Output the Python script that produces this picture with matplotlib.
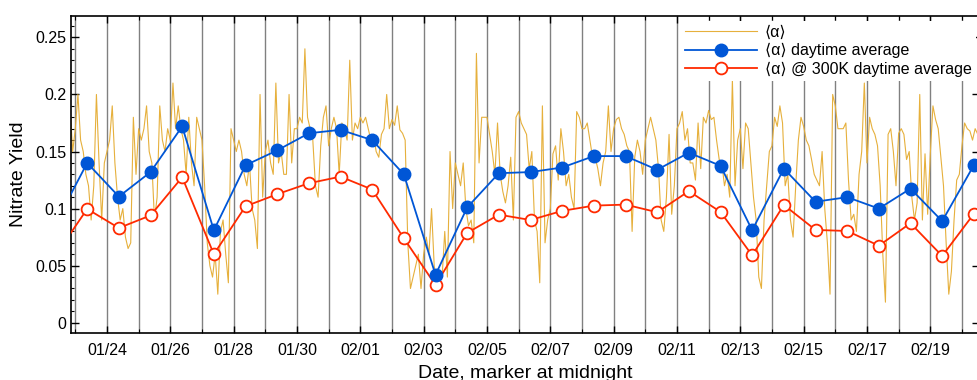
# Nitrate yield time series with daytime averages
import pandas as pd
import matplotlib
matplotlib.use('Agg')
import matplotlib.pyplot as plt
import matplotlib.dates as mdates
from matplotlib.ticker import MultipleLocator, FormatStrFormatter

plt.rcParams['font.family'] = ['Liberation Sans', 'DejaVu Sans']

# <alpha>, one value every 2 h starting 01/22 18:00
alpha_start = '2021-01-22 18:00'
alpha = [
    0.16, 0.19, 0.15,                                                              # 01/22
    0.17, 0.20, 0.16, 0.15, 0.13, 0.12, 0.09, 0.12, 0.20, 0.14, 0.09, 0.14,        # 01/23
    0.15, 0.16, 0.19, 0.14, 0.11, 0.09, 0.10, 0.075, 0.065, 0.07, 0.18, 0.13,      # 01/24
    0.17, 0.16, 0.17, 0.19, 0.15, 0.14, 0.09, 0.11, 0.19, 0.16, 0.15, 0.17,        # 01/25
    0.16, 0.21, 0.17, 0.19, 0.17, 0.16, 0.13, 0.18, 0.14, 0.12, 0.18, 0.17,        # 01/26
    0.16, 0.12, 0.07, 0.05, 0.04, 0.06, 0.025, 0.08, 0.09, 0.06, 0.035, 0.17,      # 01/27
    0.16, 0.15, 0.16, 0.15, 0.13, 0.12, 0.14, 0.10, 0.09, 0.065, 0.20, 0.11,       # 01/28
    0.15, 0.16, 0.14, 0.13, 0.21, 0.14, 0.15, 0.13, 0.13, 0.20, 0.14, 0.17,        # 01/29
    0.17, 0.18, 0.175, 0.24, 0.18, 0.17, 0.16, 0.12, 0.11, 0.155, 0.18, 0.19,      # 01/30
    0.155, 0.17, 0.18, 0.17, 0.13, 0.175, 0.17, 0.16, 0.23, 0.16, 0.175, 0.17,     # 01/31
    0.18, 0.175, 0.18, 0.17, 0.16, 0.165, 0.15, 0.145, 0.165, 0.17, 0.20, 0.17,    # 02/01
    0.178, 0.173, 0.19, 0.169, 0.166, 0.16, 0.07, 0.03, 0.04, 0.05, 0.06, 0.03,    # 02/02
    0.06, 0.075, 0.06, 0.10, 0.05, 0.035, 0.045, 0.04, 0.08, 0.04, 0.15, 0.10,     # 02/03
    0.14, 0.13, 0.12, 0.14, 0.10, 0.085, 0.09, 0.07, 0.236, 0.14, 0.18, 0.18,      # 02/04
    0.18, 0.165, 0.15, 0.13, 0.175, 0.13, 0.115, 0.105, 0.12, 0.145, 0.09, 0.18,   # 02/05
    0.185, 0.175, 0.17, 0.165, 0.135, 0.15, 0.09, 0.08, 0.035, 0.19, 0.07, 0.09,   # 02/06
    0.10, 0.148, 0.155, 0.125, 0.17, 0.15, 0.12, 0.13, 0.11, 0.10, 0.185, 0.18,    # 02/07
    0.17, 0.17, 0.175, 0.16, 0.145, 0.145, 0.135, 0.12, 0.14, 0.15, 0.19, 0.15,    # 02/08
    0.17, 0.178, 0.18, 0.17, 0.165, 0.155, 0.15, 0.08, 0.145, 0.16, 0.15, 0.13,    # 02/09
    0.16, 0.17, 0.18, 0.17, 0.16, 0.135, 0.09, 0.08, 0.11, 0.165, 0.095, 0.12,     # 02/10
    0.17, 0.175, 0.185, 0.16, 0.17, 0.14, 0.14, 0.125, 0.175, 0.135, 0.18, 0.175,  # 02/11
    0.186, 0.178, 0.18, 0.16, 0.143, 0.14, 0.12, 0.13, 0.11, 0.213, 0.12, 0.16,    # 02/12
    0.17, 0.135, 0.175, 0.17, 0.14, 0.11, 0.09, 0.04, 0.03, 0.09, 0.12, 0.15,      # 02/13
    0.155, 0.18, 0.172, 0.19, 0.175, 0.12, 0.13, 0.09, 0.075, 0.12, 0.16, 0.18,    # 02/14
    0.172, 0.16, 0.155, 0.143, 0.13, 0.125, 0.12, 0.15, 0.10, 0.07, 0.025, 0.20,   # 02/15
    0.19, 0.17, 0.17, 0.17, 0.175, 0.125, 0.09, 0.095, 0.08, 0.13, 0.15, 0.21,     # 02/16
    0.14, 0.18, 0.17, 0.165, 0.155, 0.12, 0.06, 0.018, 0.165, 0.17, 0.15, 0.12,   # 02/17
    0.166, 0.17, 0.165, 0.143, 0.15, 0.11, 0.09, 0.105, 0.20, 0.09, 0.148, 0.095,  # 02/18
    0.148, 0.19, 0.178, 0.17, 0.145, 0.12, 0.07, 0.025, 0.045, 0.09, 0.125, 0.13,  # 02/19
    0.155, 0.175, 0.17, 0.168, 0.16, 0.17, 0.165, 0.17, 0.17, 0.16, 0.17, 0.165,   # 02/20
]

# daytime averages, one per day (01/22 .. 02/21)
avg_start = '2021-01-22 09:00'
alpha_day = [0.087, 0.140, 0.1105, 0.132, 0.172, 0.081, 0.138, 0.151, 0.166, 0.169,
             0.160, 0.130, 0.042, 0.101, 0.131, 0.132, 0.136, 0.146, 0.146, 0.134,
             0.149, 0.1375, 0.081, 0.135, 0.106, 0.110, 0.100, 0.1175, 0.089, 0.138,
             0.110]
alpha_300k = [0.059, 0.0997, 0.083, 0.094, 0.1275, 0.060, 0.102, 0.1126, 0.1222, 0.128,
              0.1167, 0.074, 0.033, 0.0787, 0.0947, 0.090, 0.098, 0.1026, 0.1035, 0.0968,
              0.1153, 0.0971, 0.059, 0.1032, 0.0813, 0.0804, 0.0675, 0.0872, 0.0585, 0.0954,
              0.085]

t_alpha = pd.date_range(alpha_start, periods=len(alpha), freq='2h')
t_avg = pd.date_range(avg_start, periods=len(alpha_day), freq='D')
midnights = pd.date_range('2021-01-23', '2021-02-20', freq='D')
label_days = pd.date_range('2021-01-24', '2021-02-20', freq='2D')

c_alpha = '#E6B03C'
c_day = '#0056D6'
c_300k = '#FF2A00'

fig = plt.figure(figsize=(9.77, 3.8), dpi=100)
ax = fig.add_axes([71 / 977, 47 / 380, 909 / 977, 317.3 / 380])

# marker at midnight
for d in midnights:
    ax.axvline(d, color='0.5', lw=1.0, zorder=1)

ax.plot(t_alpha, alpha, color=c_alpha, lw=0.8, zorder=2, label='⟨α⟩')
ax.plot(t_avg, alpha_day, color=c_day, lw=1.3, marker='o', ms=9,
        mfc=c_day, mec=c_day, zorder=4, label='⟨α⟩ daytime average')
ax.plot(t_avg, alpha_300k, color=c_300k, lw=1.3, marker='o', ms=8.5,
        mfc='white', mec=c_300k, mew=1.3, zorder=3, label='⟨α⟩ @ 300K daytime average')

ax.set_xlim(pd.Timestamp('2021-01-22 20:44'), pd.Timestamp('2021-02-20 13:40'))
ax.set_ylim(-0.009, 0.269)

ax.set_xticks(label_days)
ax.set_xticks(midnights, minor=True)
ax.xaxis.set_major_formatter(mdates.DateFormatter('%m/%d'))
ax.yaxis.set_major_locator(MultipleLocator(0.05))
ax.yaxis.set_minor_locator(MultipleLocator(0.01))
ax.yaxis.set_major_formatter(FormatStrFormatter('%g'))

ax.tick_params(which='both', direction='in', top=True, right=True, labelsize=11.5)
ax.tick_params(axis='x', which='major', length=5, width=1, pad=7)
ax.tick_params(axis='x', which='minor', length=3, width=0.8)
ax.tick_params(axis='y', which='major', length=6, width=1)
ax.tick_params(axis='y', which='minor', length=2.5, width=0.8)
for s in ax.spines.values():
    s.set_linewidth(1.2)

ax.set_xlabel('Date, marker at midnight', fontsize=14, labelpad=5)
ax.set_ylabel('Nitrate Yield', fontsize=14, labelpad=6)

leg = ax.legend(loc='upper left', bbox_to_anchor=(681 / 977, 1 - 21 / 380),
                bbox_transform=fig.transFigure, fontsize=11.5, handlelength=4.5,
                handletextpad=0.5, labelspacing=0.2, borderpad=0.25, borderaxespad=0,
                numpoints=1, fancybox=False, framealpha=1, edgecolor='none')
leg.set_zorder(5)

fig.savefig('out.png', dpi=100)
